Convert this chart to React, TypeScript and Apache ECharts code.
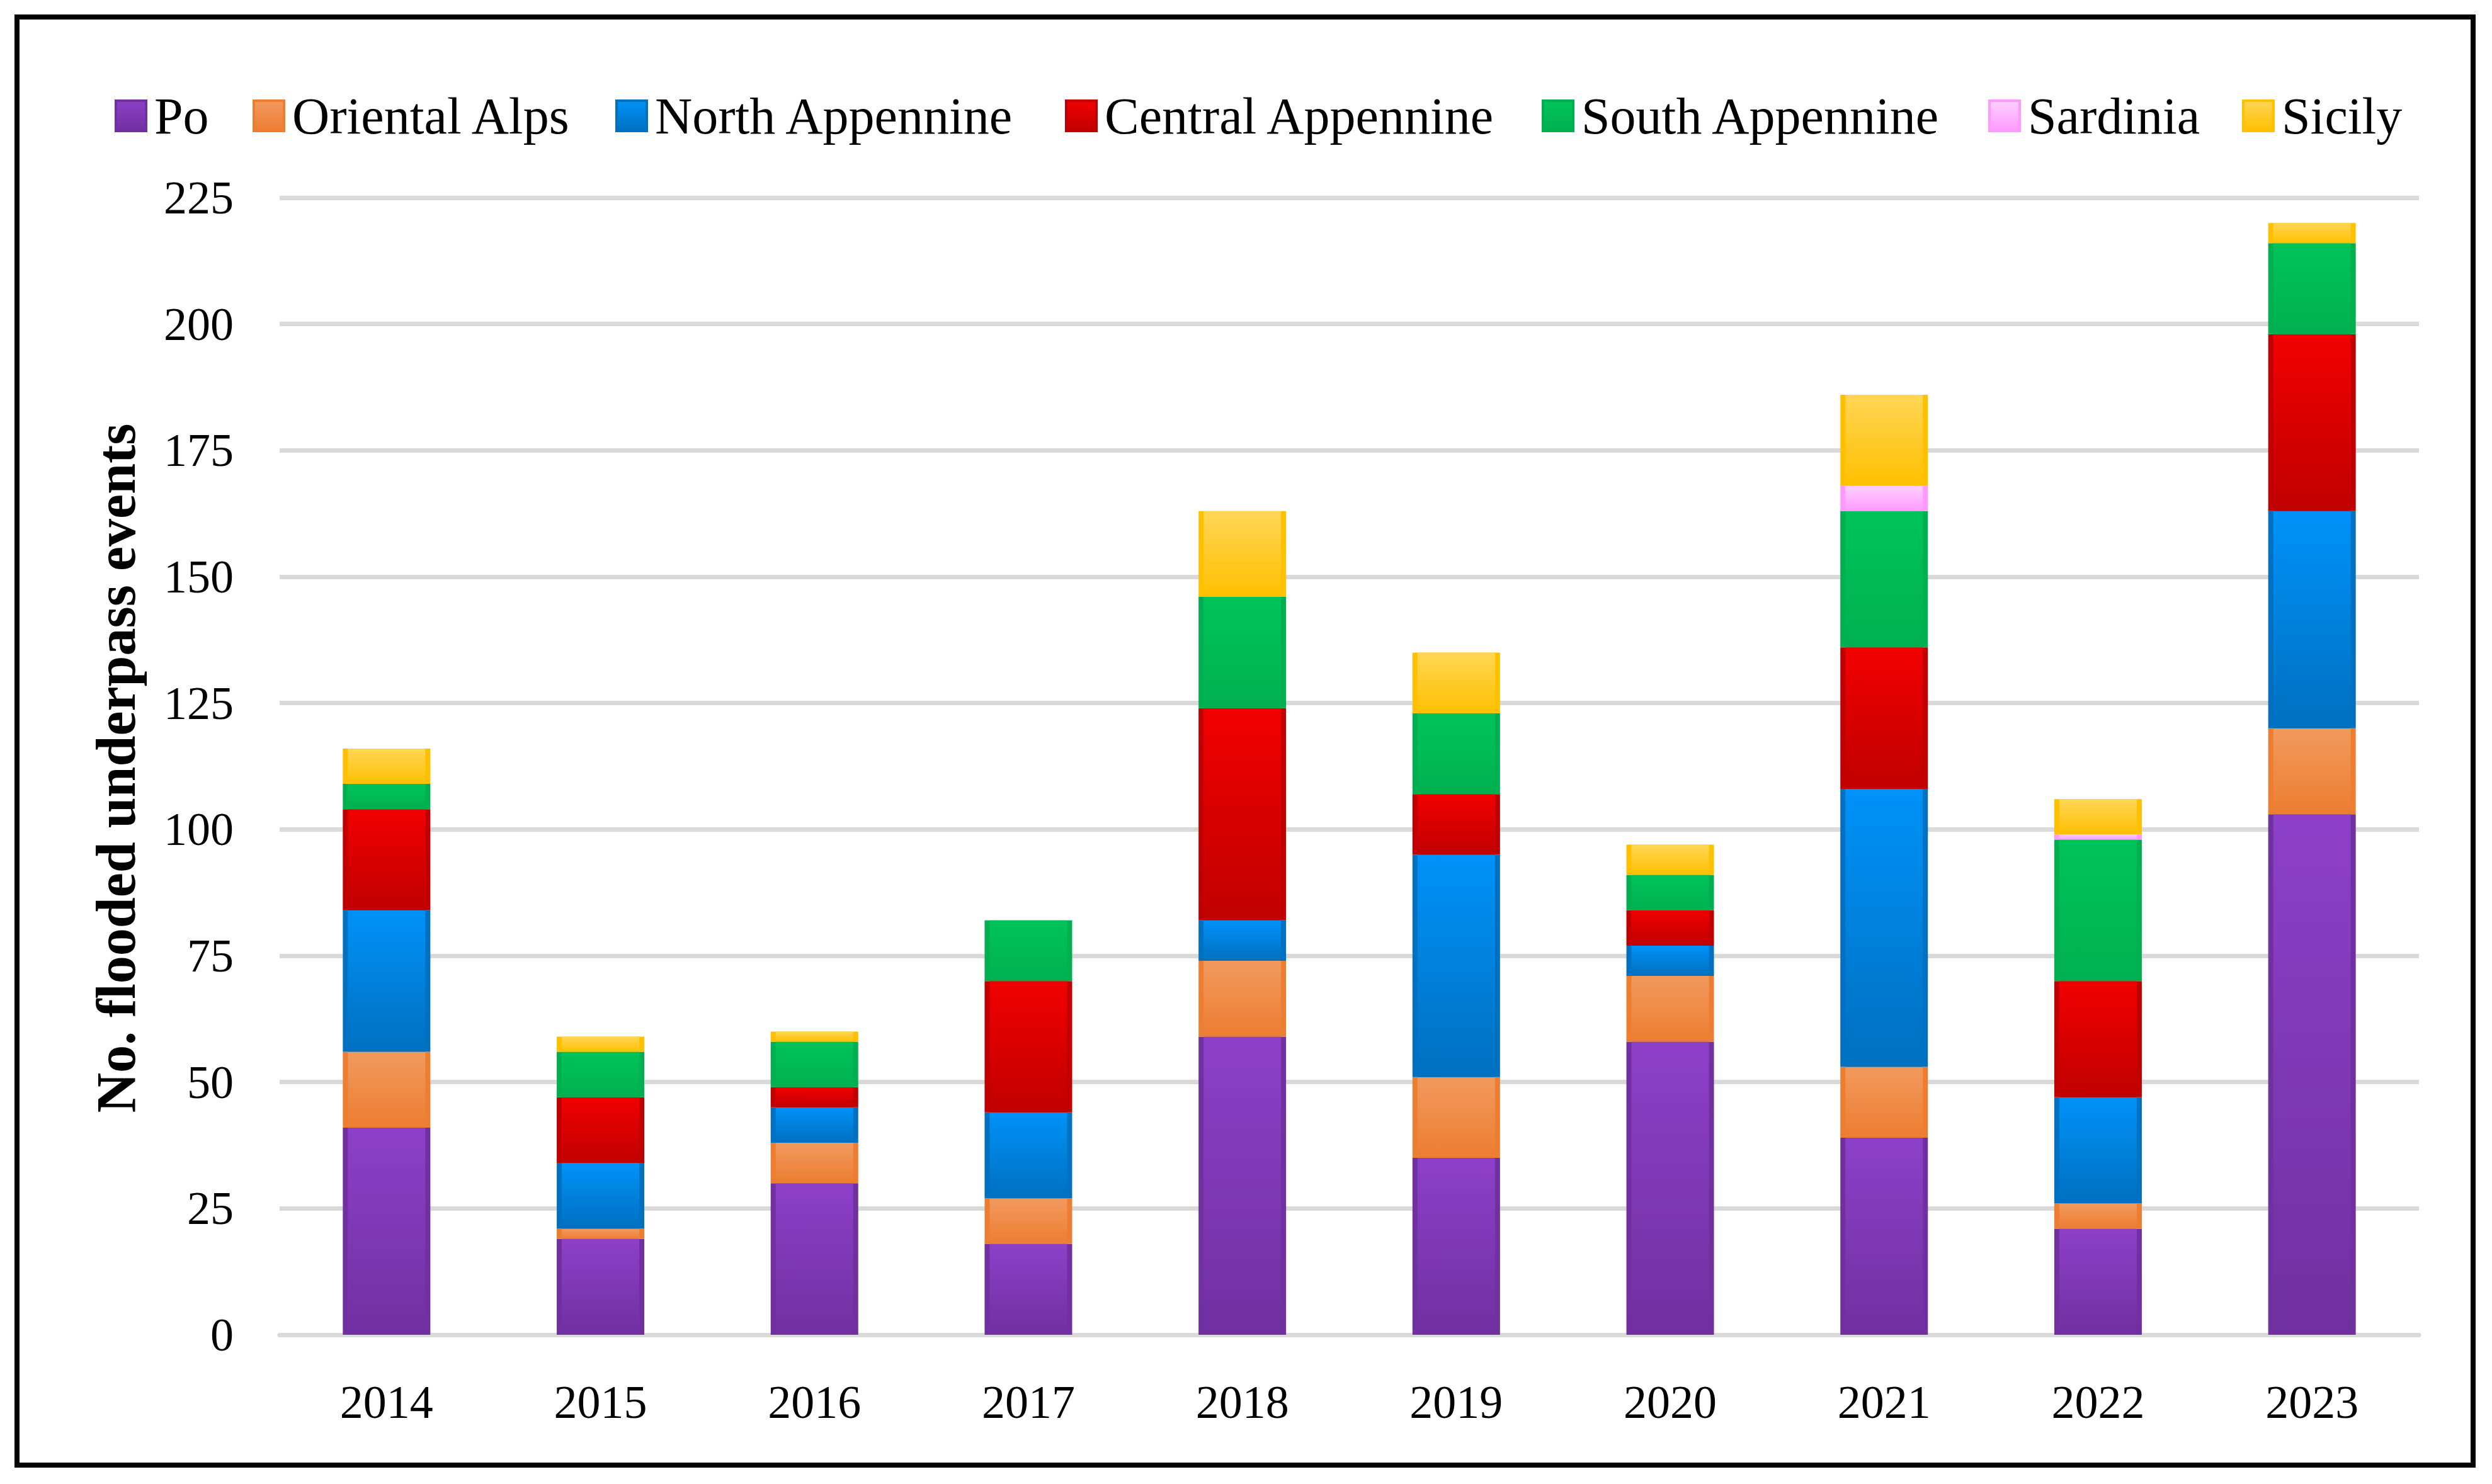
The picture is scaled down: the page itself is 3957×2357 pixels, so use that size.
import React, { useEffect, useRef } from "react";
import * as echarts from "echarts";

const years = ["2014", "2015", "2016", "2017", "2018", "2019", "2020", "2021", "2022", "2023"];
const seriesNames = ["Po", "Oriental Alps", "North Appennine", "Central Appennine", "South Appennine", "Sardinia", "Sicily"];

const po = [41, 19, 30, 18, 59, 35, 58, 39, 21, 103];
const orientalAlps = [15, 2, 8, 9, 15, 16, 13, 14, 5, 17];
const northAppennine = [28, 13, 7, 17, 8, 44, 6, 55, 21, 43];
const centralAppennine = [20, 13, 4, 26, 42, 12, 7, 28, 23, 35];
const southAppennine = [5, 9, 9, 12, 22, 16, 7, 27, 28, 18];
const sardinia = [0, 0, 0, 0, 0, 0, 0, 5, 1, 0];
const sicily = [7, 3, 2, 0, 17, 12, 6, 18, 7, 4];

const seriesValues = [po, orientalAlps, northAppennine, centralAppennine, southAppennine, sardinia, sicily];

const yMin = 0;
const yMax = 225;
const yInterval = 25;
const yTitle = "No. flooded underpass events";

const baseColors = ["#7030A0", "#ED7D31", "#0070C0", "#C00000", "#00B050", "#FF99FF", "#FFC000"];
const lightColors = ["#8C40C8", "#F19A5E", "#0092F8", "#F20000", "#00C45A", "#FFD0FF", "#FFD655"];

const FONT = "'Liberation Serif', 'Times New Roman', serif";

const legendLefts = [182, 401, 977, 1691, 2448, 3157, 3560];

function grad(i: number) {
  return new echarts.graphic.LinearGradient(0, 0, 0, 1, [
    { offset: 0, color: lightColors[i] },
    { offset: 1, color: baseColors[i] },
  ]);
}

export default function App() {
  const ref = useRef<HTMLDivElement>(null);

  useEffect(() => {
    if (!ref.current) return;
    const chart = echarts.init(ref.current, null, { renderer: "svg" });

    const outerSeries = seriesNames.map((name, i) => ({
      name,
      type: "bar",
      stack: "outer",
      xAxisIndex: 0,
      yAxisIndex: 0,
      barWidth: 139,
      data: seriesValues[i],
      itemStyle: { color: baseColors[i] },
      emphasis: { disabled: true },
    }));
    const innerSeries = seriesNames.map((name, i) => ({
      name,
      type: "bar",
      stack: "inner",
      xAxisIndex: 1,
      yAxisIndex: 0,
      barWidth: 123,
      data: seriesValues[i],
      itemStyle: { color: grad(i) },
      emphasis: { disabled: true },
    }));

    const option = {
      animation: false,
      backgroundColor: "#ffffff",
      textStyle: { fontFamily: FONT },
      grid: { left: 444, right: 116, top: 314, bottom: 237, containLabel: false },
      legend: seriesNames.map((name, i) => ({
        data: [
          {
            name,
            itemStyle: { color: grad(i), borderColor: baseColors[i], borderWidth: 4 },
          },
        ],
        left: legendLefts[i],
        top: 143,
        padding: 0,
        icon: "rect",
        itemWidth: 48,
        itemHeight: 48,
        selectedMode: false,
        textStyle: {
          fontFamily: FONT,
          fontSize: 82,
          lineHeight: 82,
          color: "#000",
          padding: [0, 0, 0, 8],
        },
      })),
      xAxis: [
        {
          type: "category",
          data: years,
          gridIndex: 0,
          axisLine: { show: true, lineStyle: { color: "#D9D9D9", width: 7 } },
          axisTick: { show: false },
          axisLabel: { fontFamily: FONT, fontSize: 74, color: "#000", margin: 70 },
          splitLine: { show: false },
        },
        {
          type: "category",
          data: years,
          gridIndex: 0,
          show: false,
        },
      ],
      yAxis: {
        type: "value",
        min: yMin,
        max: yMax,
        interval: yInterval,
        axisLine: { show: false },
        axisTick: { show: false },
        axisLabel: { fontFamily: FONT, fontSize: 74, color: "#000", margin: 73 },
        splitLine: { show: true, lineStyle: { color: "#D9D9D9", width: 7 } },
      },
      graphic: [
        {
          type: "rect",
          shape: { x: 27, y: 27, width: 3900, height: 2300 },
          style: { fill: "none", stroke: "#000", lineWidth: 8 },
          z: 100,
        },
        {
          type: "text",
          x: 184,
          y: 1220,
          rotation: Math.PI / 2,
          style: {
            text: yTitle,
            fontFamily: FONT,
            fontSize: 88,
            fontWeight: "bold",
            fill: "#000",
            textAlign: "center",
            textVerticalAlign: "middle",
          },
        },
      ],
      series: [...outerSeries, ...innerSeries],
    };

    chart.setOption(option as any);
    return () => {
      chart.dispose();
    };
  }, []);

  return (
    <div
      ref={ref}
      style={{ position: "absolute", left: 0, top: 0, width: 3957, height: 2357 }}
    />
  );
}
